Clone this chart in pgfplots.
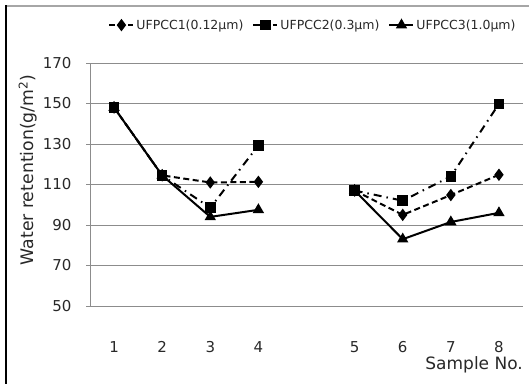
\documentclass[border=0pt]{standalone}
\usepackage{pgfplots}
\pgfplotsset{compat=1.18}
\usepackage{fontspec}
\setmainfont{DejaVu Sans}

\definecolor{gridgray}{RGB}{140,140,140}
\definecolor{txt}{RGB}{40,40,40}

\begin{document}
\begin{tikzpicture}[x=1pt,y=1pt]
\useasboundingbox (0,0) rectangle (529,384);
% frame lines
\draw[gray!70, line width=1.5pt] (6,378) -- (529,378);
\draw[black, line width=1.5pt] (6,378.75) -- (6,0);
\begin{axis}[
  at={(90pt,78pt)}, anchor=south west,
  scale only axis, width=433pt, height=243pt,
  xmin=0.5, xmax=9.5, ymin=50, ymax=170,
  axis lines*=left,
  axis line style={gridgray, line width=0.8pt},
  ytick={50,70,...,170},
  ymajorgrids, major grid style={gridgray, line width=0.8pt},
  tick align=outside,
  major tick length=4pt, minor tick length=4pt,
  ytick style={gridgray, line width=0.8pt},
  xtick={1,2,3,4,6,7,8,9},
  xticklabels={1,2,3,4,5,6,\raisebox{2pt}{7},\raisebox{2pt}{8}},
  xtick style={draw=none},
  minor xtick={0.5,1.5,...,9.5},
  minor x tick style={gridgray, line width=0.8pt},
  /pgf/number format/assume math mode=true,
  tick label style={font=\fontsize{15}{17}\selectfont, text=txt},
  yticklabel style={xshift=-11pt},
  xticklabel style={yshift=-28pt},
  ylabel={Water retention(g/m\textsuperscript{2})},
  ylabel style={at={(rel axis cs:-0.143,0.56)}, anchor=center, font=\fontsize{17.3}{19}\selectfont, text=txt},
  xlabel={Sample No.},
  xlabel style={at={(rel axis cs:1,0)}, anchor=north east, yshift=-50pt, inner sep=0pt, font=\fontsize{17}{19}\selectfont, text=txt},
  unbounded coords=jump,
  legend columns=3,
  legend style={at={(rel axis cs:0.515,1.156)}, anchor=center, draw=none, fill=none,
    font=\fontsize{12.5}{14}\selectfont, text=txt,
    /tikz/every even column/.append style={column sep=7pt}},
  legend cell align=left,
  legend image code/.code={\draw[mark repeat=2,mark phase=2] plot coordinates {(0pt,0pt)(12pt,0pt)(24pt,0pt)};},
]
\addplot[black, line width=2pt, dash pattern=on 6pt off 3.5pt, mark=diamond*, mark size=4.6pt,
  mark options={solid}]
  coordinates {(1,148) (2,114.5) (3,111) (4,111.3) (5,nan) (6,107) (7,95) (8,104.8) (9,114.8)};
\addlegendentry{UFPCC1(0.12μm)}
\addplot[black, line width=2pt, dash pattern=on 8pt off 5pt on 1.5pt off 5pt, mark=square*, mark size=4.3pt,
  mark options={solid}]
  coordinates {(1,148) (2,114.5) (3,98.5) (4,129.3) (5,nan) (6,107) (7,102) (8,114) (9,149.8)};
\addlegendentry{UFPCC2(0.3μm)}
\addplot[black, line width=2pt, mark=triangle*, mark size=4.6pt, mark options={solid}]
  coordinates {(1,148) (2,114.5) (3,94) (4,97.5) (5,nan) (6,107) (7,83) (8,91.5) (9,96)};
\addlegendentry{UFPCC3(1.0μm)}
\end{axis}
\end{tikzpicture}
\end{document}
